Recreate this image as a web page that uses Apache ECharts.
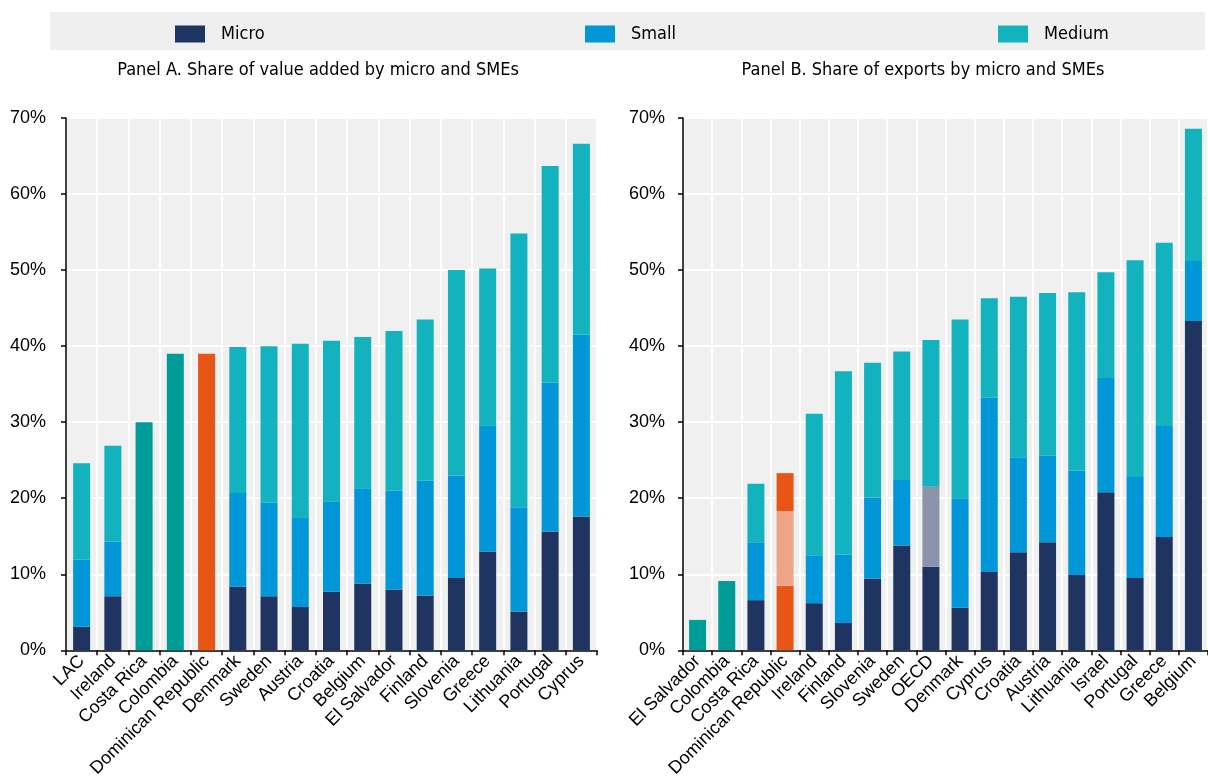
<!DOCTYPE html>
<html>
<head>
<meta charset="UTF-8">
<title>Share of value added and exports by micro and SMEs</title>
<script src="https://cdn.jsdelivr.net/npm/echarts@6/dist/echarts.min.js"></script>
<style>
body { margin: 0; padding: 0; background: #fff; }
#main { width: 1208px; height: 780px; }
</style>
</head>
<body>
<div id="main"></div>
<script>
// Panel A: share of value added (%), segments micro / small / medium
var catsA = ['LAC', 'Ireland', 'Costa Rica', 'Colombia', 'Dominican Republic', 'Denmark', 'Sweden', 'Austria',
    'Croatia', 'Belgium', 'El Salvador', 'Finland', 'Slovenia', 'Greece', 'Lithuania', 'Portugal', 'Cyprus'];
var microA  = [3.1, 7.1, null, null, null, 8.4, 7.1, 5.7, 7.7, 8.8, 8.0, 7.2, 9.5, 13.0, 5.1, 15.6, 17.6];
var smallA  = [8.8, 7.2, null, null, null, 12.3, 12.3, 11.7, 11.9, 12.5, 13.0, 15.1, 13.5, 16.6, 13.7, 19.6, 23.9];
var mediumA = [12.7, 12.6, null, null, null, 19.2, 20.6, 22.9, 21.1, 19.9, 21.0, 21.2, 27.0, 20.6, 36.0, 28.5, 25.1];
var totalA  = [null, null, 30.0, 39.0, 39.0, null, null, null, null, null, null, null, null, null, null, null, null];

// Panel B: share of exports (%)
var catsB = ['El Salvador', 'Colombia', 'Costa Rica', 'Dominican Republic', 'Ireland', 'Finland', 'Slovenia', 'Sweden',
    'OECD', 'Denmark', 'Cyprus', 'Croatia', 'Austria', 'Lithuania', 'Israel', 'Portugal', 'Greece', 'Belgium'];
var microB  = [null, null, 6.6, 8.5, 6.2, 3.6, 9.4, 13.8, 11.0, 5.6, 10.3, 12.9, 14.2, 9.9, 20.8, 9.5, 14.9, 43.3];
var smallB  = [null, null, 7.6, 9.8, 6.3, 9.0, 10.7, 8.6, 10.5, 14.4, 22.9, 12.5, 11.4, 13.7, 15.0, 13.3, 14.6, 7.9];
var mediumB = [null, null, 7.7, 5.0, 18.6, 24.1, 17.7, 16.9, 19.3, 23.5, 13.1, 21.1, 21.4, 23.5, 13.9, 28.5, 24.1, 17.4];
var totalB  = [4.0, 9.1, null, null, null, null, null, null, null, null, null, null, null, null, null, null, null, null];

var C_MICRO = '#1f3461', C_SMALL = '#0096d7', C_MEDIUM = '#13b2bf';
var C_TEAL = '#009c97', C_ORANGE = '#e85615', C_ORANGE_LIGHT = '#eda585', C_GREY = '#8a93aa';
var NARROW = "'Liberation Sans Narrow', 'Arial Narrow', 'DejaVu Sans Condensed', sans-serif";
var SANS = "'Liberation Sans', Arial, sans-serif";

// colour overrides for highlighted bars
function paint(values, cats, colors) {
    return values.map(function (v, i) {
        var c = colors[cats[i]];
        if (v === null) return '-';
        return c ? { value: v, itemStyle: { color: c } } : v;
    });
}

var chart = echarts.init(document.getElementById('main'));

function xAxisFor(idx, cats) {
    return {
        type: 'category', gridIndex: idx, data: cats,
        axisLine: { lineStyle: { color: '#000', width: 1.5 } },
        axisTick: { show: true, length: 5, lineStyle: { color: '#000', width: 1.5 } },
        splitLine: { show: true, lineStyle: { color: '#fff', width: 2 } },
        axisLabel: { interval: 0, rotate: 45, fontSize: 18, color: '#000', margin: 8, fontFamily: SANS }
    };
}
function yAxisFor(idx, margin) {
    return {
        type: 'value', gridIndex: idx, min: 0, max: 70, interval: 10,
        axisLine: { show: true, lineStyle: { color: '#000', width: 1.5 } },
        axisTick: { show: true, length: 5, lineStyle: { color: '#000', width: 1.5 } },
        splitLine: { show: true, lineStyle: { color: '#fff', width: 2 } },
        axisLabel: { formatter: '{value}%', fontSize: 18, color: '#000', margin: margin, fontFamily: SANS }
    };
}
function bar(name, idx, stack, data, color) {
    return {
        name: name, type: 'bar', xAxisIndex: idx, yAxisIndex: idx, stack: stack,
        barWidth: 17, data: data, itemStyle: { color: color }, animation: false
    };
}

var legendBase = {
    top: 25, padding: 0, itemWidth: 30, itemHeight: 17, itemGap: 10, icon: 'rect',
    textStyle: { fontSize: 18, color: '#000', fontFamily: NARROW, padding: [2, 0, 0, 11] }
};

option = {
    backgroundColor: '#fff',
    graphic: [{ type: 'rect', shape: { x: 50, y: 12, width: 1155, height: 38 }, style: { fill: '#efefef' }, z: -1 }],
    legend: [
        Object.assign({ left: 175, data: ['Micro'] }, legendBase),
        Object.assign({ left: 585, data: ['Small'] }, legendBase),
        Object.assign({ left: 998, data: ['Medium'] }, legendBase)
    ],
    title: [
        { text: 'Panel A. Share of value added by micro and SMEs', left: 318, top: 61, textAlign: 'center', padding: 0,
          textStyle: { fontSize: 18, fontWeight: 'normal', color: '#000', fontFamily: NARROW } },
        { text: 'Panel B. Share of exports by micro and SMEs', left: 923, top: 61, textAlign: 'center', padding: 0,
          textStyle: { fontSize: 18, fontWeight: 'normal', color: '#000', fontFamily: NARROW } }
    ],
    grid: [
        { left: 66, top: 118, width: 531, height: 535, show: true, backgroundColor: '#f0f0f0', borderWidth: 0 },
        { left: 683, top: 118, width: 533, height: 535, show: true, backgroundColor: '#f0f0f0', borderWidth: 0 }
    ],
    xAxis: [xAxisFor(0, catsA), xAxisFor(1, catsB)],
    yAxis: [yAxisFor(0, 20), yAxisFor(1, 18)],
    series: [
        bar('Micro', 0, 'a', paint(microA, catsA, {}), C_MICRO),
        bar('Small', 0, 'a', paint(smallA, catsA, {}), C_SMALL),
        bar('Medium', 0, 'a', paint(mediumA, catsA, {}), C_MEDIUM),
        bar('Total', 0, 'a', paint(totalA, catsA, { 'Costa Rica': C_TEAL, 'Colombia': C_TEAL, 'Dominican Republic': C_ORANGE }), C_TEAL),
        bar('Micro', 1, 'b', paint(microB, catsB, { 'Dominican Republic': C_ORANGE }), C_MICRO),
        bar('Small', 1, 'b', paint(smallB, catsB, { 'Dominican Republic': C_ORANGE_LIGHT, 'OECD': C_GREY }), C_SMALL),
        bar('Medium', 1, 'b', paint(mediumB, catsB, { 'Dominican Republic': C_ORANGE }), C_MEDIUM),
        bar('Total', 1, 'b', paint(totalB, catsB, {}), C_TEAL)
    ]
};
chart.setOption(option);
</script>
</body>
</html>
